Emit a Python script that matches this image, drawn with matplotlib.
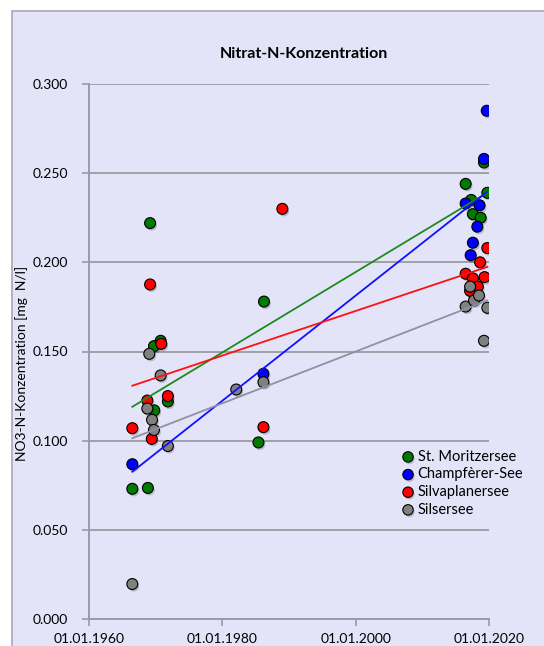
import matplotlib.pyplot as plt
import matplotlib.dates as mdates
import matplotlib.patheffects as pe
import numpy as np
import pandas as pd
from matplotlib.patches import Rectangle

plt.rcParams['font.family'] = ['Lato', 'DejaVu Sans']

# Messdaten NO3-N [mg N/l] je See
moritz_dates = ['1966-07-01', '1968-11-01', '1969-03-01', '1969-10-01', '1970-10-01',
                '1969-10-15', '1971-11-01', '1985-06-01', '1986-04-01', '2016-07-01',
                '2017-05-01', '2017-08-01', '2018-10-01', '2019-04-01', '2019-10-01']
moritz_no3 = [0.073, 0.0735, 0.222, 0.153, 0.156,
              0.117, 0.122, 0.099, 0.178, 0.244,
              0.235, 0.227, 0.225, 0.256, 0.239]

champ_dates = ['1966-07-01', '1986-03-01', '2016-07-01', '2017-04-01', '2017-08-01',
               '2018-04-01', '2018-08-01', '2019-04-01', '2019-09-01']
champ_no3 = [0.0868, 0.1375, 0.233, 0.204, 0.211,
             0.220, 0.232, 0.258, 0.285]

silva_dates = ['1966-07-01', '1968-10-01', '1969-03-01', '1969-06-01', '1970-11-01',
               '1971-11-01', '1986-03-01', '1989-01-01', '2016-07-01', '2017-03-01',
               '2017-08-01', '2018-05-01', '2018-09-01', '2019-05-01', '2019-10-01']
silva_no3 = [0.107, 0.1225, 0.1876, 0.101, 0.1543,
             0.125, 0.1076, 0.230, 0.1936, 0.184,
             0.191, 0.1864, 0.200, 0.1917, 0.208]

sils_dates = ['1966-07-01', '1968-10-01', '1969-01-15', '1969-06-15', '1969-10-01',
              '1970-10-01', '1971-11-01', '1982-02-01', '1986-03-01', '2016-07-01',
              '2017-03-01', '2017-10-01', '2018-07-01', '2019-04-01', '2019-10-01']
sils_no3 = [0.0196, 0.118, 0.1487, 0.1117, 0.106,
            0.1366, 0.097, 0.1287, 0.1328, 0.1752,
            0.1864, 0.1786, 0.1814, 0.156, 0.1745]

series = [
    ('St. Moritzersee', moritz_dates, moritz_no3, '#007a00', '#1f8a1f'),
    ('Champfèrer-See', champ_dates, champ_no3, '#0000ff', '#1010ff'),
    ('Silvaplanersee', silva_dates, silva_no3, '#ff0000', '#ff1010'),
    ('Silsersee', sils_dates, sils_no3, '#808080', '#9090a4'),
]

fig = plt.figure(figsize=(5.44, 6.46), dpi=100)
fig.patch.set_facecolor('white')
# Diagrammfläche (läuft rechts und unten über den Rand)
fig.patches.append(Rectangle((12 / 544, -0.1), 1.0, (646 - 11) / 646 + 0.1,
                             transform=fig.transFigure, facecolor='#e4e4f9',
                             edgecolor='#a8a8b8', lw=1.2, zorder=-5))

ax = fig.add_axes([89 / 544, 27 / 646, 400 / 544, 535 / 646])
ax.set_facecolor('none')

shadow = [pe.SimplePatchShadow(offset=(1, -1.5), shadow_rgbFace='black', alpha=0.2),
          pe.Normal()]

for i, (name, d, v, col, lcol) in enumerate(series):
    x = mdates.date2num(pd.to_datetime(d))
    ax.scatter(x, v, s=62, color=col, edgecolors='black', linewidths=0.8,
               label=name, zorder=3 + i * 0.1, path_effects=shadow)
    # lineare Trendlinie
    k, m = np.polyfit(x, v, 1)
    xs = np.array([x.min(), x.max()])
    ax.plot(xs, k * xs + m, color=lcol, lw=1.3, zorder=5)

ax.set_xlim(mdates.date2num(pd.Timestamp('1960-01-01')),
            mdates.date2num(pd.Timestamp('2020-01-01')))
ax.set_ylim(0, 0.3)
ax.set_xticks(mdates.date2num(pd.to_datetime(['1960-01-01', '1980-01-01',
                                              '2000-01-01', '2020-01-01'])))
ax.xaxis.set_major_formatter(mdates.DateFormatter('%d.%m.%Y'))
ax.set_yticks(np.arange(0, 0.301, 0.05))
ax.yaxis.set_major_formatter(plt.FormatStrFormatter('%.3f'))

ax.grid(axis='y', color='#a0a0a8', lw=1.4)
ax.set_axisbelow(True)
for s in ['top', 'right']:
    ax.spines[s].set_visible(False)
for s in ['left', 'bottom']:
    ax.spines[s].set_color('#9a9aa6')
    ax.spines[s].set_linewidth(1.4)
ax.tick_params(colors='#9a9aa6', width=1.2, length=5, labelcolor='black',
               labelsize=10)
ax.tick_params(axis='x', pad=5)
ax.tick_params(axis='y', pad=10)

ax.set_ylabel('NO3-N-Konzentration [mg  N/l]', fontsize=10)
ax.yaxis.set_label_coords(-0.1525, 0.478)
fig.text(304 / 544, 1 - 54 / 646, 'Nitrat-N-Konzentration', ha='center',
         va='center', fontsize=11.5, weight='bold')

ax.legend(loc='upper left', bbox_to_anchor=(0.7575, 0.33), frameon=False,
          handletextpad=0.05, labelspacing=0.25, borderpad=0, handlelength=1.2,
          fontsize=10.5, markerscale=0.95)

fig.savefig('out.png', dpi=100)
